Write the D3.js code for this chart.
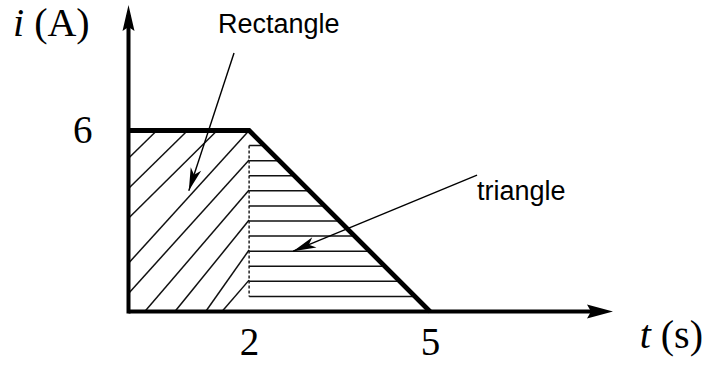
<!DOCTYPE html>
<html>
<head>
<meta charset="utf-8">
<script src="https://cdn.jsdelivr.net/npm/d3@7"></script>
<style>
  html, body { margin: 0; padding: 0; background: #fff; }
  svg { display: block; }
  .serif { font-family: "Liberation Serif", "Times New Roman", serif; fill: #000; }
  .sans { font-family: "Liberation Sans", Arial, sans-serif; fill: #000; }
</style>
</head>
<body>
<svg id="chart" width="706" height="367"></svg>
<script>
// 電流波形 (t [s], i [A])
var waveT = [0, 2, 5];
var waveI = [6, 6, 0];

// 目盛
var xTicks = [2, 5];
var yTicks = [6];

// 三角形部分の水平ハッチの高さ (A)
var triLevels = [5.5, 5, 4.5, 4, 3.5, 3, 2.5, 2, 1.5, 1, 0.5];

// 長方形部分の斜線 [t1, i1, t2, i2] (手描きなので少し不揃い)
var rectHatch = [
    [0.47, 6, 0, 5.08],
    [0.98, 6, 0, 4.08],
    [1.47, 6, 0, 3.09],
    [2, 6, 0, 1.6],
    [2, 5.02, 0, 0.6],
    [2, 4.03, 0.27, 0],
    [2, 3.03, 0.77, 0],
    [2, 2.04, 1.28, 0],
    [2, 1.04, 1.55, 0]
];

var svg = d3.select("#chart");

var x = d3.scaleLinear().domain([0, 5]).range([128.5, 430]);
var y = d3.scaleLinear().domain([0, 6]).range([311.5, 130.5]);

var xEnd = x.invert(613);  // 矢印の先
var yEnd = y.invert(5);

// 矢じりを描く
function arrowHead(tip, from, len, half, notch) {
    var dx = from[0] - tip[0], dy = from[1] - tip[1];
    var d = Math.sqrt(dx * dx + dy * dy);
    var ux = dx / d, uy = dy / d;
    var nx = -uy, ny = ux;
    var p = [
        [tip[0], tip[1]],
        [tip[0] + ux * len + nx * half, tip[1] + uy * len + ny * half],
        [tip[0] + ux * (len - notch), tip[1] + uy * (len - notch)],
        [tip[0] + ux * len - nx * half, tip[1] + uy * len - ny * half]
    ];
    svg.append("path")
        .attr("d", "M" + p.map(function(q){ return q.join(","); }).join("L") + "Z")
        .attr("fill", "#000");
}

// 長方形の斜線
svg.append("g")
    .selectAll("line")
    .data(rectHatch)
    .enter()
    .append("line")
    .attr("x1", function(d){ return x(d[0]); })
    .attr("y1", function(d){ return y(d[1]); })
    .attr("x2", function(d){ return x(d[2]); })
    .attr("y2", function(d){ return y(d[3]); })
    .attr("stroke", "#111")
    .attr("stroke-width", 1.5);

// 三角形の水平線 (波形でクリップ)
svg.append("clipPath")
    .attr("id", "triClip")
    .append("path")
    .attr("d", d3.line()([[x(2), y(6)], [x(5), y(0)], [x(2), y(0)]]) + "Z");

svg.append("g")
    .attr("clip-path", "url(#triClip)")
    .selectAll("line")
    .data(triLevels)
    .enter()
    .append("line")
    .attr("x1", x(2))
    .attr("x2", x(5))
    .attr("y1", function(d){ return y(d); })
    .attr("y2", function(d){ return y(d); })
    .attr("stroke", "#111")
    .attr("stroke-width", 1.5);

// t = 2 の破線
svg.append("line")
    .attr("x1", x(2)).attr("x2", x(2))
    .attr("y1", y(d3.max(triLevels))).attr("y2", y(d3.min(triLevels)))
    .attr("stroke", "#111")
    .attr("stroke-width", 1.4)
    .attr("stroke-dasharray", "3,2");

// 軸
svg.append("line")
    .attr("x1", x(0)).attr("y1", y(0))
    .attr("x2", x(xEnd) - 10).attr("y2", y(0))
    .attr("stroke", "#000").attr("stroke-width", 4);
svg.append("line")
    .attr("x1", x(0)).attr("y1", y(0) + 2)
    .attr("x2", x(0)).attr("y2", y(yEnd) + 10)
    .attr("stroke", "#000").attr("stroke-width", 4);
arrowHead([x(xEnd), y(0)], [x(0), y(0)], 26, 7, 4);
arrowHead([x(0), y(yEnd)], [x(0), y(0)], 26, 6, 4);

// 波形
var line = d3.line()
    .x(function(d, i){ return x(waveT[i]); })
    .y(function(d, i){ return y(waveI[i]); });
svg.append("path")
    .attr("d", line(waveT))
    .attr("fill", "none")
    .attr("stroke", "#000")
    .attr("stroke-width", 4.8)
    .attr("stroke-linejoin", "miter");

// 目盛ラベル
svg.append("g")
    .attr("transform", "translate(0," + y(0) + ")")
    .call(d3.axisBottom(x).tickValues(xTicks).tickSize(0).tickPadding(16).tickFormat(d3.format("d")))
    .call(function(g){ g.select(".domain").remove(); })
    .selectAll("text")
    .attr("class", "serif")
    .attr("fill", "#000")
    .style("font-size", "39px");

svg.append("g")
    .attr("transform", "translate(" + x(0) + ",0)")
    .call(d3.axisLeft(y).tickValues(yTicks).tickSize(0).tickPadding(36).tickFormat(d3.format("d")))
    .call(function(g){ g.select(".domain").remove(); })
    .selectAll("text")
    .attr("class", "serif")
    .attr("fill", "#000")
    .style("font-size", "39px");

// 軸名
var yl = svg.append("text").attr("class", "serif").attr("x", 13).attr("y", 36).style("font-size", "40px");
yl.append("tspan").style("font-style", "italic").text("i");
yl.append("tspan").text(" (A)");

var xl = svg.append("text").attr("class", "serif").attr("x", 703).attr("y", 348)
    .attr("text-anchor", "end").style("font-size", "40px");
xl.append("tspan").style("font-style", "italic").text("t");
xl.append("tspan").text(" (s)");

// 注釈
var notes = [
    { label: "Rectangle", lt: 1.485, li: 9.23, from: [1.75, 8.57], to: [1, 4] },
    { label: "triangle", lt: 5.78, li: 3.70, from: [5.78, 4.52], to: [2.73, 2] }
];

notes.forEach(function(n){
    svg.append("text")
        .attr("class", "sans")
        .attr("x", x(n.lt))
        .attr("y", y(n.li))
        .style("font-size", "27px")
        .text(n.label);
    var p0 = [x(n.from[0]), y(n.from[1])];
    var p1 = [x(n.to[0]), y(n.to[1])];
    svg.append("line")
        .attr("x1", p0[0]).attr("y1", p0[1])
        .attr("x2", p1[0]).attr("y2", p1[1])
        .attr("stroke", "#000").attr("stroke-width", 1.4);
    arrowHead(p1, p0, 23, 5.5, 6);
});
</script>
</body>
</html>
